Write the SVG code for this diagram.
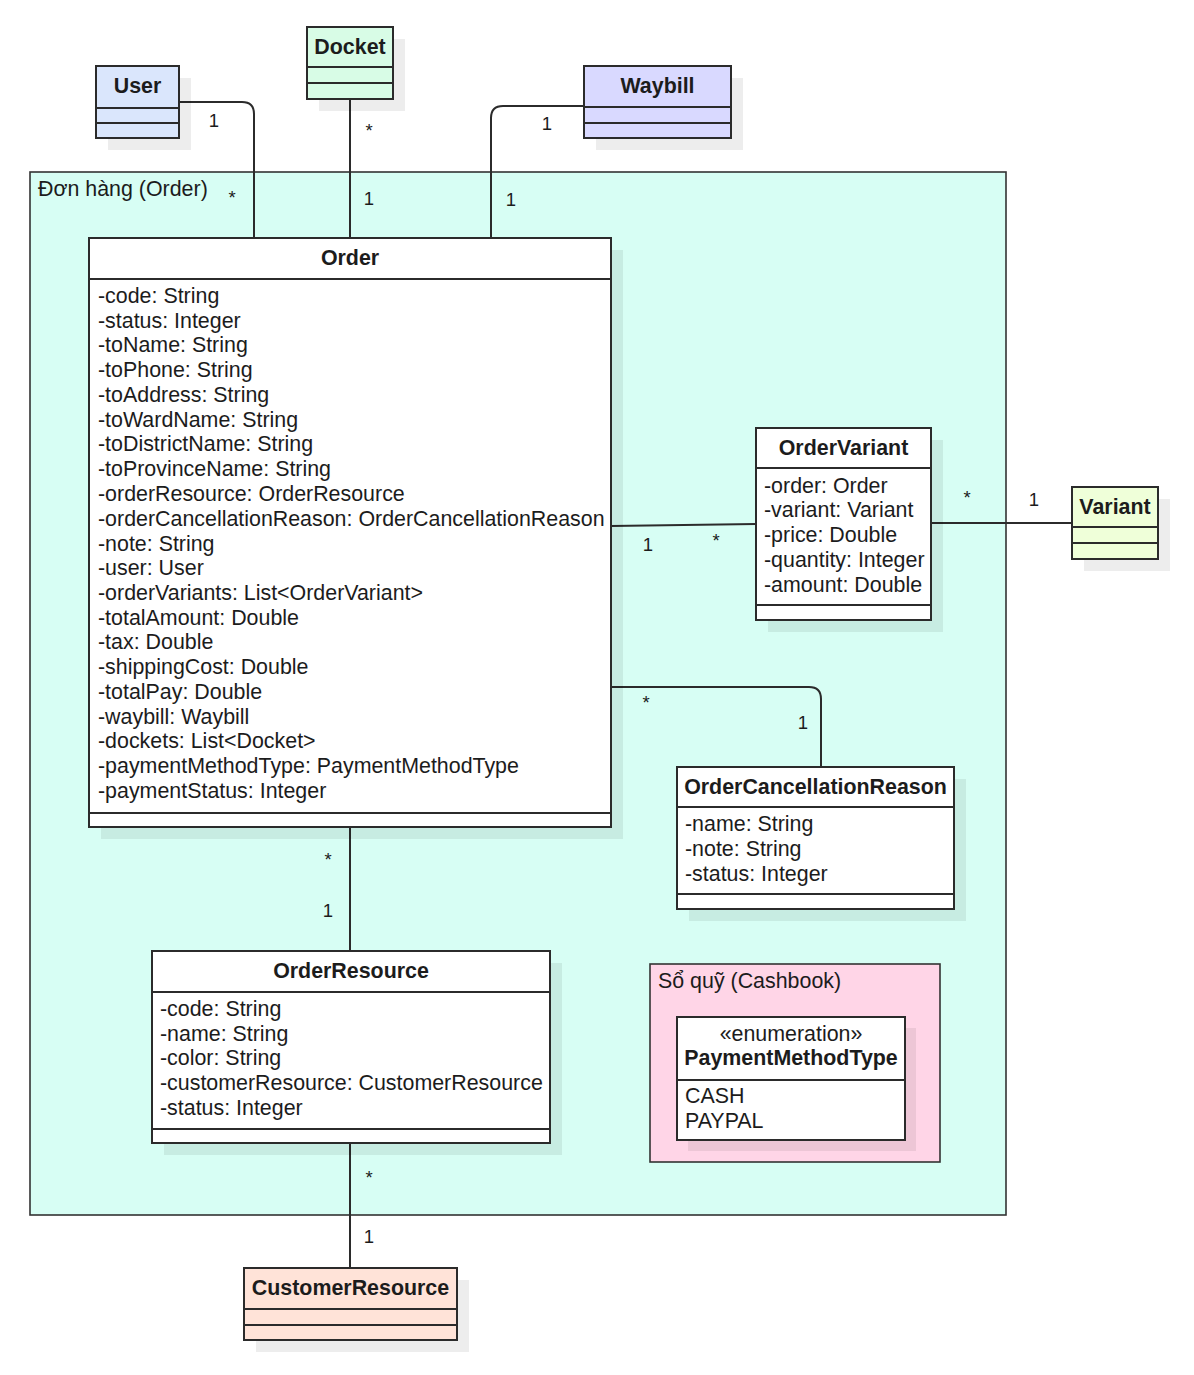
<svg xmlns="http://www.w3.org/2000/svg" width="1194" height="1375" viewBox="0 0 1194 1375">
<style>
text{font-family:"Liberation Sans",Arial,sans-serif;fill:#1c1c1c}
.t{font-size:21.4px;font-weight:bold;text-anchor:middle}
.a{font-size:21.4px}
.m{font-size:18.5px;text-anchor:middle}
.box{stroke:#2b2b2b;stroke-width:2}
.sh{fill:#000;opacity:0.07}
.ln{stroke:#2b2b2b;stroke-width:2;fill:none}
.pk{stroke:#333;stroke-width:1.6}
</style>
<rect width="1194" height="1375" fill="#fff"/>
<g id="pkg-order">
<rect class="pk" x="30" y="172" width="976" height="1043" fill="#D7FEF4"/>
<text class="a" x="38" y="196">Đơn hàng (Order)</text>
</g>
<g id="connectors">
<path class="ln" d="M179,102 H242 Q254,102 254,114 V238"/>
<path class="ln" d="M350,99 V238"/>
<path class="ln" d="M584,106 H503 Q491,106 491,118 V238"/>
<path class="ln" d="M611,526 L756,524"/>
<path class="ln" d="M931,523 H1072"/>
<path class="ln" d="M611,687 H809 Q821,687 821,699 V767"/>
<path class="ln" d="M350,827 V951"/>
<path class="ln" d="M350,1143 V1268"/>
<text class="m" x="214" y="127">1</text>
<text class="m" x="232" y="204">*</text>
<text class="m" x="369" y="137">*</text>
<text class="m" x="369" y="205">1</text>
<text class="m" x="547" y="130">1</text>
<text class="m" x="511" y="206">1</text>
<text class="m" x="648" y="551">1</text>
<text class="m" x="716" y="547">*</text>
<text class="m" x="967" y="504">*</text>
<text class="m" x="1034" y="506">1</text>
<text class="m" x="646" y="709">*</text>
<text class="m" x="803" y="729">1</text>
<text class="m" x="328" y="866">*</text>
<text class="m" x="328" y="917">1</text>
<text class="m" x="369" y="1184">*</text>
<text class="m" x="369" y="1243">1</text>
</g>
<g id="User">
<rect class="sh" x="108" y="78" width="83" height="72"/>
<rect class="box" x="96" y="66" width="83" height="72" fill="#DAE6FC"/>
<path class="ln" d="M96,108 H179 M96,123 H179"/>
<text class="t" x="137.5" y="93">User</text>
</g>
<g id="Docket">
<rect class="sh" x="319" y="39" width="86" height="72"/>
<rect class="box" x="307" y="27" width="86" height="72" fill="#D8FCE6"/>
<path class="ln" d="M307,67 H393 M307,83 H393"/>
<text class="t" x="350" y="54">Docket</text>
</g>
<g id="Waybill">
<rect class="sh" x="596" y="78" width="147" height="72"/>
<rect class="box" x="584" y="66" width="147" height="72" fill="#D9D9FF"/>
<path class="ln" d="M584,107 H731 M584,123 H731"/>
<text class="t" x="657.5" y="93">Waybill</text>
</g>
<g id="Order">
<rect class="sh" x="101" y="250" width="522" height="589"/>
<rect class="box" x="89" y="238" width="522" height="589" fill="#fff"/>
<path class="ln" d="M89,279 H611 M89,813 H611"/>
<text class="t" x="350" y="265">Order</text>
<text class="a" x="98" y="303">-code: String</text>
<text class="a" x="98" y="328">-status: Integer</text>
<text class="a" x="98" y="352">-toName: String</text>
<text class="a" x="98" y="377">-toPhone: String</text>
<text class="a" x="98" y="402">-toAddress: String</text>
<text class="a" x="98" y="427">-toWardName: String</text>
<text class="a" x="98" y="451">-toDistrictName: String</text>
<text class="a" x="98" y="476">-toProvinceName: String</text>
<text class="a" x="98" y="501">-orderResource: OrderResource</text>
<text class="a" x="98" y="526">-orderCancellationReason: OrderCancellationReason</text>
<text class="a" x="98" y="551">-note: String</text>
<text class="a" x="98" y="575">-user: User</text>
<text class="a" x="98" y="600">-orderVariants: List&lt;OrderVariant&gt;</text>
<text class="a" x="98" y="625">-totalAmount: Double</text>
<text class="a" x="98" y="649">-tax: Double</text>
<text class="a" x="98" y="674">-shippingCost: Double</text>
<text class="a" x="98" y="699">-totalPay: Double</text>
<text class="a" x="98" y="724">-waybill: Waybill</text>
<text class="a" x="98" y="748">-dockets: List&lt;Docket&gt;</text>
<text class="a" x="98" y="773">-paymentMethodType: PaymentMethodType</text>
<text class="a" x="98" y="798">-paymentStatus: Integer</text>
</g>
<g id="OrderVariant">
<rect class="sh" x="768" y="440" width="175" height="192"/>
<rect class="box" x="756" y="428" width="175" height="192" fill="#fff"/>
<path class="ln" d="M756,468 H931 M756,605 H931"/>
<text class="t" x="843.5" y="455">OrderVariant</text>
<text class="a" x="764" y="493">-order: Order</text>
<text class="a" x="764" y="517">-variant: Variant</text>
<text class="a" x="764" y="542">-price: Double</text>
<text class="a" x="764" y="567">-quantity: Integer</text>
<text class="a" x="764" y="592">-amount: Double</text>
</g>
<g id="Variant">
<rect class="sh" x="1084" y="499" width="86" height="72"/>
<rect class="box" x="1072" y="487" width="86" height="72" fill="#EFFFD9"/>
<path class="ln" d="M1072,527 H1158 M1072,543 H1158"/>
<text class="t" x="1115" y="514">Variant</text>
</g>
<g id="OrderCancellationReason">
<rect class="sh" x="689" y="779" width="277" height="142"/>
<rect class="box" x="677" y="767" width="277" height="142" fill="#fff"/>
<path class="ln" d="M677,807 H954 M677,894 H954"/>
<text class="t" x="815.5" y="794">OrderCancellationReason</text>
<text class="a" x="685" y="831">-name: String</text>
<text class="a" x="685" y="856">-note: String</text>
<text class="a" x="685" y="881">-status: Integer</text>
</g>
<g id="OrderResource">
<rect class="sh" x="164" y="963" width="398" height="192"/>
<rect class="box" x="152" y="951" width="398" height="192" fill="#fff"/>
<path class="ln" d="M152,992 H550 M152,1129 H550"/>
<text class="t" x="351" y="978">OrderResource</text>
<text class="a" x="160" y="1016">-code: String</text>
<text class="a" x="160" y="1041">-name: String</text>
<text class="a" x="160" y="1065">-color: String</text>
<text class="a" x="160" y="1090">-customerResource: CustomerResource</text>
<text class="a" x="160" y="1115">-status: Integer</text>
</g>
<g id="pkg-cashbook">
<rect class="pk" x="650" y="964" width="290" height="198" fill="#FFD5E7"/>
<text class="a" x="658" y="988">Sổ quỹ (Cashbook)</text>
</g>
<g id="PaymentMethodType">
<rect class="sh" x="688" y="1028" width="228" height="123"/>
<rect class="box" x="677" y="1017" width="228" height="123" fill="#fff"/>
<path class="ln" d="M677,1080 H905"/>
<text class="a" x="791" y="1041" text-anchor="middle">«enumeration»</text>
<text class="t" x="791" y="1065">PaymentMethodType</text>
<text class="a" x="685" y="1103">CASH</text>
<text class="a" x="685" y="1128">PAYPAL</text>
</g>
<g id="CustomerResource">
<rect class="sh" x="256" y="1280" width="213" height="72"/>
<rect class="box" x="244" y="1268" width="213" height="72" fill="#FFE3D8"/>
<path class="ln" d="M244,1309 H457 M244,1325 H457"/>
<text class="t" x="350.5" y="1295">CustomerResource</text>
</g>
</svg>
